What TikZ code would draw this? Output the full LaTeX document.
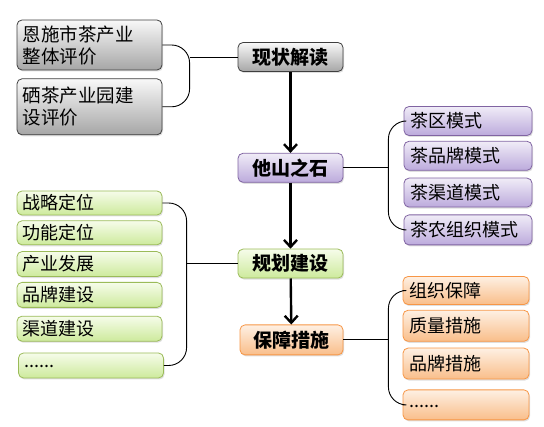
\documentclass[tikz,border=0pt]{standalone}
\usepackage{fontspec}
\newfontfamily\cjk{Noto Sans CJK SC}
\usepackage{tikz}
\usetikzlibrary{arrows.meta, positioning, shadows}

\definecolor{grayline}{HTML}{3F3F3F}
\definecolor{graytop}{HTML}{F8F8F8}
\definecolor{graybot}{HTML}{A6A6A6}
\definecolor{purpline}{HTML}{8064A2}
\definecolor{purptop}{HTML}{F0ECF7}
\definecolor{purpbot}{HTML}{BCAADC}
\definecolor{greenline}{HTML}{9BBB59}
\definecolor{greentop}{HTML}{F6FCEA}
\definecolor{greenbot}{HTML}{CDEA9C}
\definecolor{orangeline}{HTML}{F79646}
\definecolor{orangetop}{HTML}{FEF0E3}
\definecolor{orangebot}{HTML}{F9BE8A}

\begin{document}
\begin{tikzpicture}[x=1pt, y=-1pt, font=\cjk]
\tikzstyle{box} = [rectangle, rounded corners=5pt, line width=0.8pt, drop shadow={opacity=0.25, shadow xshift=1pt, shadow yshift=-1.5pt}]
\tikzstyle{hub} = [box, minimum width=105pt, minimum height=29pt, inner sep=0pt, font=\cjk\bfseries\fontsize{19}{21}\selectfont]
\tikzstyle{leaf} = [box, align=left, inner xsep=6pt, inner ysep=0pt, font=\cjk\fontsize{18}{22}\selectfont]
\tikzstyle{grayish} = [draw=grayline, top color=graytop, bottom color=graybot]
\tikzstyle{purplish} = [draw=purpline, top color=purptop, bottom color=purpbot]
\tikzstyle{greenish} = [draw=greenline, top color=greentop, bottom color=greenbot]
\tikzstyle{orangish} = [draw=orangeline, top color=orangetop, bottom color=orangebot]
\tikzstyle{arrow} = [line width=2.4pt, -{Straight Barb[length=7pt, width=13pt]}]
\tikzstyle{brace} = [line width=0.9pt, rounded corners=18pt]
\tikzstyle{link} = [line width=0.9pt]

\useasboundingbox (0,0) rectangle (544,427);

% main column
\node (xz) [hub, grayish] at (290.5,57) {现状解读};
\node (tsz) [hub, purplish, below=81pt of xz] {他山之石};
\node (gh) [hub, greenish, below=66pt of tsz] {规划建设};
\node (bz) [hub, orangish, below=46pt of gh, minimum width=103pt, xshift=1pt, minimum height=30pt] {保障措施};

\draw [arrow] (xz) -- (tsz);
\draw [arrow] (tsz) -- (gh);
\draw [arrow] (gh) -- (bz);

% current state
\node (xz1) [leaf, grayish, text width=133pt, minimum height=50pt, font=\cjk\fontsize{18.5}{22}\selectfont] at (89.5,45) {恩施市茶产业\\整体评价};
\node (xz2) [leaf, grayish, text width=133pt, minimum height=56pt, font=\cjk\fontsize{18.5}{22}\selectfont, below=8pt of xz1] {硒茶产业园建\\设评价};
\coordinate [left=48pt of xz] (xzb);
\draw [brace] (xz1.east) -| (xzb |- xz2.east) -- (xz2.east);
\draw [link] (xzb) -- (xz);

% models
\node (ts1) [leaf, purplish, text width=116pt, minimum height=29pt] at (468,121) {茶区模式};
\node (ts2) [leaf, purplish, text width=116pt, minimum height=29pt, below=5pt of ts1] {茶品牌模式};
\node (ts3) [leaf, purplish, text width=116pt, minimum height=29pt, below=7pt of ts2] {茶渠道模式};
\node (ts4) [leaf, purplish, text width=116pt, minimum height=30pt, below=7pt of ts3] {茶农组织模式};
\coordinate [right=45pt of tsz] (tsb);
\draw [brace] (ts1.west) -| (tsb |- ts4.west) -- (ts4.west);
\draw [link] (tsb) -- (tsz);

% planning
\node (gh1) [leaf, greenish, text width=133pt, minimum height=24pt] at (89.5,203) {战略定位};
\node (gh2) [leaf, greenish, text width=133pt, minimum height=24pt, below=5pt of gh1] {功能定位};
\node (gh3) [leaf, greenish, text width=133pt, minimum height=25pt, below=6pt of gh2] {产业发展};
\node (gh4) [leaf, greenish, text width=133pt, minimum height=25pt, below=5pt of gh3] {品牌建设};
\node (gh5) [leaf, greenish, text width=133pt, minimum height=25pt, below=8pt of gh4] {渠道建设};
\node (gh6) [leaf, greenish, text width=133pt, minimum height=25pt, below=11pt of gh5, xshift=1.5pt] {\raisebox{-5pt}{......}};
\coordinate [left=51pt of gh] (ghb);
\draw [brace] (gh1.east) -| (ghb |- gh6.east) -- (gh6.east);
\draw [link] (ghb) -- (gh);

% measures
\node (bz1) [leaf, orangish, text width=114pt, minimum height=28pt] at (466,290.5) {组织保障};
\node (bz2) [leaf, orangish, text width=114pt, minimum height=31pt, below=5pt of bz1] {质量措施};
\node (bz3) [leaf, orangish, text width=114pt, minimum height=31pt, below=6pt of bz2] {品牌措施};
\node (bz4) [leaf, orangish, text width=114pt, minimum height=30pt, below=10pt of bz3] {\raisebox{-6pt}{......}};
\coordinate [right=45pt of bz] (bzb);
\draw [brace] (bz1.west) -| (bzb |- bz4.west) -- (bz4.west);
\draw [link] (bzb) -- (bz);
\end{tikzpicture}
\end{document}
